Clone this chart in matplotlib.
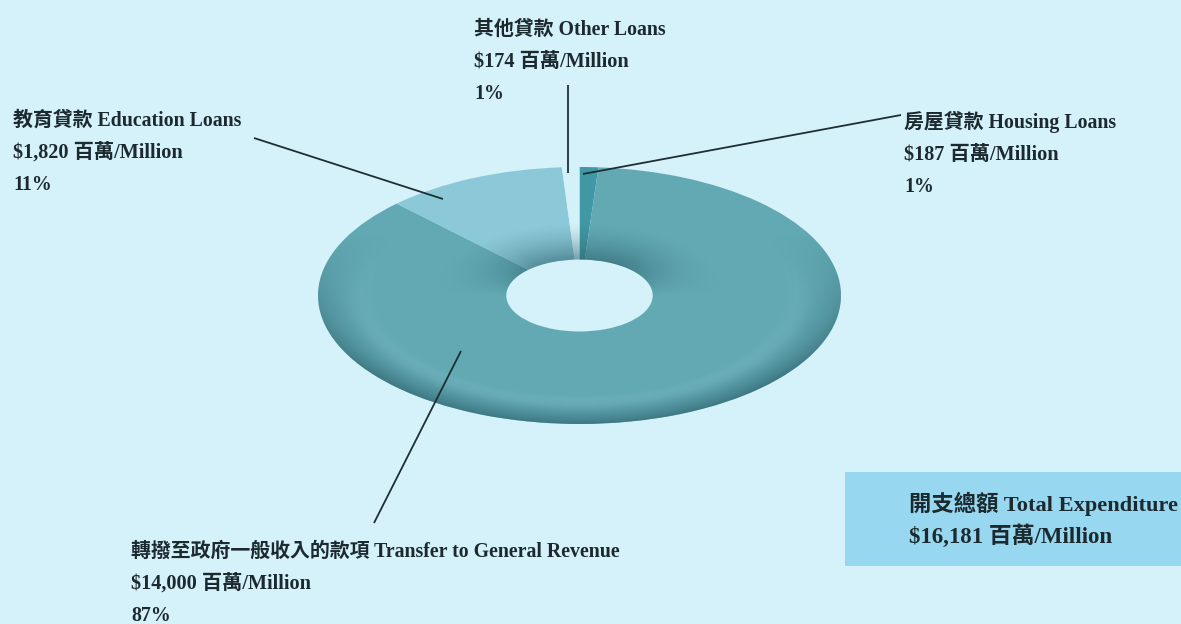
import numpy as np
from matplotlib import pyplot as plt
from matplotlib.patches import Wedge, Rectangle
from matplotlib.colors import LinearSegmentedColormap

categories = ["房屋貸款 Housing Loans", "轉撥至政府一般收入的款項 Transfer to General Revenue",
              "教育貸款 Education Loans", "其他貸款 Other Loans"]
amounts = [187, 14000, 1820, 174]
amount_labels = ["$187 百萬/Million", "$14,000 百萬/Million", "$1,820 百萬/Million", "$174 百萬/Million"]
percents = ["1%", "87%", "11%", "1%"]
colors = ["#3f98a4", "#62a9b4", "#8bc9d8", "#d3f1f9"]
total_title = "開支總額 Total Expenditure"
total_value = "$16,181 百萬/Million"

W, H = 1181, 624
bg = "#d5f2fb"
font = dict(family=["Liberation Serif", "Noto Sans CJK TC"], weight="bold", color="#1c2a30", fontsize=14.35)
font_amount = dict(font, fontsize=14.6)
font_total = dict(font, fontsize=16.1)
font_total_value = dict(font, fontsize=16.5)

fig = plt.figure(figsize=(W / 100, H / 100), dpi=100, facecolor=bg)

# squashed pie gives the tilted ring
ax = fig.add_axes([318 / W, 1 - 424 / H, 523 / W, 257 / H])
ax.pie(amounts, colors=colors, startangle=90, counterclock=False, radius=1,
       wedgeprops=dict(width=0.72, linewidth=0))
ax.set_aspect("auto")

# rim and hole shading on top of the wedges
xx, yy = np.meshgrid(np.linspace(-1, 1, 700), np.linspace(-1, 1, 400))
r = np.hypot(xx, yy)
rim = np.clip((r - 0.80) / 0.20, 0, 1) ** 1.6 * np.clip(0.45 - yy * 0.9, 0, 1)
hole = np.clip((0.58 - r) / 0.30, 0, 1) ** 1.5 * np.clip(yy / np.maximum(r, 0.01) * 1.2, 0, 1)
band = np.exp(-((r - 0.84) / 0.05) ** 2) * np.clip(0.5 - yy, 0, 1) * 0.10
shade = np.clip(rim * 0.62 + hole * 0.55, 0, 1)
dark = LinearSegmentedColormap.from_list("dark", [(0.16, 0.36, 0.40, 0), (0.16, 0.36, 0.40, 1)])
light = LinearSegmentedColormap.from_list("light", [(0.75, 0.9, 0.93, 0), (0.75, 0.9, 0.93, 1)])
clip = Wedge((0, 0), 1, 0, 360, width=0.72, transform=ax.transData, facecolor="none", linewidth=0)
ax.add_patch(clip)
for data, cmap in [(shade, dark), (band, light)]:
    im = ax.imshow(data, extent=(-1, 1, -1, 1), origin="lower", cmap=cmap, vmin=0, vmax=1,
                   aspect="auto", zorder=3)
    im.set_clip_path(clip)
ax.set_xlim(-1, 1)
ax.set_ylim(-1, 1)

# overlay in pixel coordinates for box, leaders and labels
ov = fig.add_axes([0, 0, 1, 1], facecolor="none")
ov.set_xlim(0, W)
ov.set_ylim(H, 0)
ov.axis("off")
ov.add_patch(Rectangle((845, 472), 336, 94, facecolor="#97d8f0", linewidth=0))

leaders = [[(901, 115), (583, 174)], [(374, 523), (461, 351)], [(254, 138), (443, 199)], [(568, 85), (568, 173)]]
for (a, b) in leaders:
    ov.plot([a[0], b[0]], [a[1], b[1]], color="#1d2f33", lw=1.3, solid_capstyle="butt")

label_pos = [(904, 128), (131, 557), (13, 126), (474, 35)]
for (x, y), name, amt, pct in zip(label_pos, categories, amount_labels, percents):
    ov.text(x, y, name, va="baseline", **font)
    ov.text(x, y + 32, amt, va="baseline", **font_amount)
    ov.text(x, y + 64, pct, va="baseline", **font)

ov.text(909, 511, total_title, va="baseline", **font_total)
ov.text(909, 543, total_value, va="baseline", **font_total_value)

plt.savefig("out.png", dpi=100, facecolor=bg)
